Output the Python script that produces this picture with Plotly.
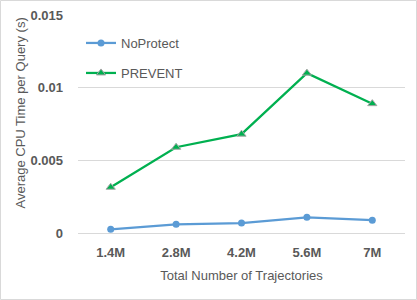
import plotly.graph_objects as go

categories = ["1.4M", "2.8M", "4.2M", "5.6M", "7M"]
noprotect = [0.00025, 0.0006, 0.00068, 0.00108, 0.00088]
prevent = [0.00315, 0.0059, 0.0068, 0.011, 0.0089]
y_ticks = [0, 0.005, 0.01, 0.015]
y_tick_labels = ["0", "0.005", "0.01", "0.015"]

font_family = "Liberation Sans, Arial, sans-serif"
txt = "#595959"

fig = go.Figure()
fig.add_trace(go.Scatter(
    x=categories, y=noprotect, name="NoProtect", mode="lines+markers",
    line=dict(color="#5B9BD5", width=2.25),
    marker=dict(symbol="circle", size=7, color="#5B9BD5"),
    legend="legend",
))
fig.add_trace(go.Scatter(
    x=categories, y=prevent, name="PREVENT", mode="lines+markers",
    line=dict(color="#00B050", width=2.25),
    marker=dict(symbol="triangle-up", size=8, color="#00B050",
                line=dict(color="#A5A5A5", width=1)),
    legend="legend2",
))

leg_common = dict(xanchor="left", yanchor="middle", bgcolor="rgba(0,0,0,0)",
                  font=dict(size=13, color=txt), itemwidth=30)

PW, PH = 327, 218

fig.update_layout(
    width=417, height=300,
    margin=dict(l=78, r=12, t=15, b=67, autoexpand=False),
    paper_bgcolor="white", plot_bgcolor="white",
    font=dict(family=font_family, color=txt, size=12),
    showlegend=True,
    legend=dict(x=3 / PW, y=1 - 28 / PH, **leg_common),
    legend2=dict(x=3 / PW, y=1 - 58 / PH, **leg_common),
    xaxis=dict(
        type="category", range=[-0.5, 4.5], showgrid=False, automargin=False,
        showline=False, ticks="", zeroline=False, ticklabelstandoff=10,
        tickfont=dict(size=13, color=txt, weight="bold"),
        title=dict(text="Total Number of Trajectories", font=dict(size=13, color=txt), standoff=11),
    ),
    yaxis=dict(
        range=[0, 0.015], tickvals=y_ticks, ticktext=y_tick_labels, automargin=False,
        showgrid=True, gridcolor="#D9D9D9", gridwidth=1,
        zeroline=True, zerolinecolor="#D9D9D9", zerolinewidth=1,
        showline=False, ticks="", ticklabelstandoff=14,
        tickfont=dict(size=13, color=txt, weight="bold"),
    ),
    annotations=[dict(text="Average CPU Time per Query (s)", textangle=-90,
                      xref="paper", yref="paper", x=-58 / PW, y=1 - 98.5 / PH,
                      xanchor="center", yanchor="middle", showarrow=False,
                      font=dict(size=13, color=txt))],
    shapes=[dict(type="rect", xref="paper", yref="paper", x0=-77.5 / PW, x1=1 + 11.5 / PW,
                 y0=-66.5 / PH, y1=1 + 14.5 / PH, line=dict(color="#D9D9D9", width=1))],
)

fig.write_html("out.html", config={"displayModeBar": False},
               post_script="document.body.style.margin='0';document.body.style.overflow='hidden';")
